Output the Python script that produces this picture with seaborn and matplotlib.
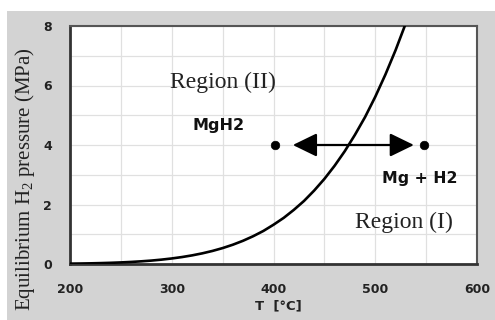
import matplotlib
matplotlib.use("Agg")
import matplotlib.pyplot as plt
from matplotlib.patches import Rectangle
from matplotlib.ticker import MultipleLocator
import seaborn as sns
import pandas as pd

# Equilibrium curve
temp_c = [200, 210, 220, 230, 240, 250, 260, 270, 280, 290, 300, 310, 320, 330,
          340, 350, 360, 370, 380, 390, 400, 410, 420, 430, 440, 450, 460, 470,
          480, 490, 500, 510, 520, 530, 540]
pressure = [0.012, 0.016, 0.022, 0.030, 0.040, 0.053, 0.069, 0.090, 0.115, 0.147,
            0.186, 0.233, 0.290, 0.358, 0.439, 0.535, 0.648, 0.780, 0.934, 1.11,
            1.32, 1.55, 1.82, 2.12, 2.47, 2.86, 3.30, 3.79, 4.34, 4.94, 5.62,
            6.37, 7.19, 8.09, 9.05]

# State points
pt_temp = [401, 548]
pt_pres = [4.0, 4.0]
arrow_temp = [419, 538]

x_ticks = [200, 300, 400, 500, 600]
y_ticks = [0, 2, 4, 6, 8]

sns.set_theme(style="white")
plt.rcParams['font.family'] = ['DejaVu Sans']
plt.rcParams['mathtext.fontset'] = 'custom'
plt.rcParams['mathtext.rm'] = 'Liberation Serif'
plt.rcParams['mathtext.it'] = 'Liberation Serif:italic'

fig = plt.figure(figsize=(4.95, 3.2), dpi=100, facecolor="white")
bg = Rectangle((7 / 495, 0), 1 - 7 / 495, 1 - 11 / 320,
               transform=fig.transFigure, facecolor="#d3d3d3",
               edgecolor="none")
bg.set_zorder(-10)
fig.add_artist(bg)
ax = fig.add_axes([70 / 495, 1 - 264 / 320, 407 / 495, 238 / 320])
ax.set_zorder(5)
ax.set_facecolor("white")

df = pd.DataFrame({"T": temp_c, "P": pressure})
sns.lineplot(data=df, x="T", y="P", ax=ax, color="black", lw=1.9, zorder=3)
sns.scatterplot(x=pt_temp, y=pt_pres, ax=ax, color="black", s=38,
                edgecolor="black", zorder=4)
ax.annotate("", xy=(arrow_temp[1], 4.0), xytext=(arrow_temp[0], 4.0),
            arrowprops=dict(arrowstyle="<|-|>,head_length=0.78,head_width=0.38",
                            mutation_scale=19, lw=1.6, color="black",
                            shrinkA=0, shrinkB=0), zorder=4)

ax.set_xlim(200, 600)
ax.set_ylim(0, 8)
ax.set_xticks(x_ticks)
ax.set_yticks(y_ticks)
ax.xaxis.set_minor_locator(MultipleLocator(50))
ax.yaxis.set_minor_locator(MultipleLocator(1))
ax.grid(True, which="both", color="#e0e0e0", lw=0.9, zorder=0)
ax.set_axisbelow(True)
ax.tick_params(which="both", length=0)
ax.tick_params(axis="x", pad=14)
ax.tick_params(axis="y", pad=13)
for lab in ax.get_xticklabels() + ax.get_yticklabels():
    lab.set_fontweight("bold")
    lab.set_fontsize(9)
    lab.set_color("#222222")

for side in ["left", "bottom"]:
    ax.spines[side].set_color("#333333")
    ax.spines[side].set_linewidth(2.0)
for side in ["right", "top"]:
    ax.spines[side].set_color("#555555")
    ax.spines[side].set_linewidth(1.5)

ax.set_xlabel("")
ax.set_ylabel("")
fig.text(278 / 495, 1 - 306 / 320, "T  [°C]", ha="center", va="center",
         fontsize=9.5, fontweight="bold", color="#222222")
fig.text(25 / 495, 1 - 179 / 320, r"Equilibrium H$_\mathrm{2}$ pressure (MPa)",
         rotation=90, ha="center", va="center", fontsize=15,
         family="Liberation Serif", color="#222222")

ax.text(350, 6.12, "Region (II)", ha="center", va="center", fontsize=17,
        family="Liberation Serif", color="#222222")
ax.text(528, 1.41, "Region (I)", ha="center", va="center", fontsize=17,
        family="Liberation Serif", color="#222222")
ax.text(346, 4.67, "MgH2", ha="center", va="center", fontsize=11.5,
        fontweight="bold", color="#111111")
ax.text(544, 2.86, "Mg + H2", ha="center", va="center", fontsize=11.3,
        fontweight="bold", color="#111111")

fig.savefig("out.png", dpi=100, facecolor="white")
